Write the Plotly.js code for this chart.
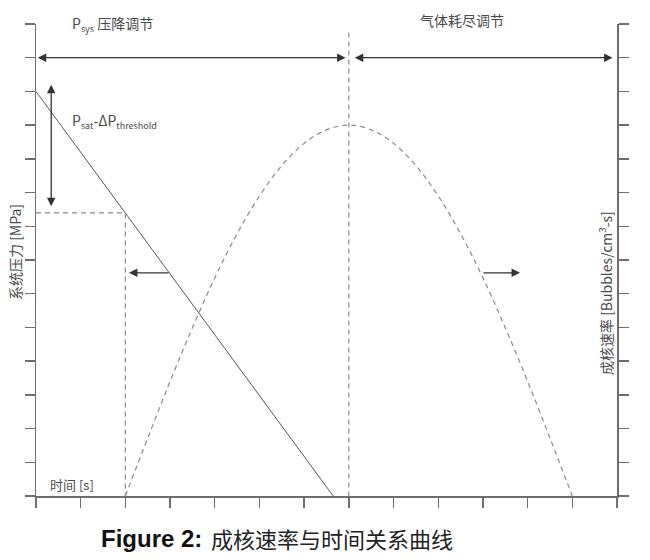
<!DOCTYPE html>
<html>
<head>
<meta charset="utf-8">
<script src="https://cdn.plot.ly/plotly-3.0.1.min.js"></script>
<style>html,body{margin:0;padding:0;background:#fff}#chart{width:650px;height:560px}</style>
</head>
<body>
<div id="chart"></div>
<script>
// Data
const pressTime = [0, 6.65];
const pressure  = [12, 0];

const rateTime = [2, 2.5, 3, 3.5, 4, 4.5, 5, 5.5, 6, 6.5, 7, 7.5, 8, 8.5, 9, 9.5, 10, 10.5, 11, 11.5, 12];
const rate     = [0, 1.72, 3.4, 4.99, 6.47, 7.78, 8.9, 9.8, 10.46, 10.86, 11, 10.86, 10.46, 9.8, 8.9, 7.78, 6.47, 4.99, 3.4, 1.72, 0];

const thresholdTime = [0, 2, 2];
const thresholdP    = [8.4, 8.4, 0];

const splitTime = [7, 7];
const splitY    = [13.75, 0];

const xTicks = [0,1,2,3,4,5,6,7,8,9,10,11,12,13];
const yTicks = [0,1,2,3,4,5,6,7,8,9,10,11,12,13,14];

const subStyle = s => '<sub><span style="font-size:9px">' + s + '</span></sub>';
const regionLabels = ['P' + subStyle('sys') + ' 压降调节', '气体耗尽调节'];
const thresholdLabel = 'P' + subStyle('sat') + '-ΔP' + subStyle('threshold');
const leftTitle = '系统压力 [MPa]';
const rightTitle = '成核速率 [Bubbles/cm<sup>3</sup>-s]';
const xTitle = '时间 [s]';
const captionBold = 'Figure 2:';
const captionText = '成核速率与时间关系曲线';

const W = 650, H = 560;
const L = 36, R = 33, T = 24, B = 64;
const pw = W - L - R, ph = H - T - B;
const px = v => (v - L) / pw;
const py = v => (H - B - v) / ph;

const axisCol = '#6e6e6e';
const dashGray = '#8a8a8a';
const txtCol = '#4a4a4a';
const arrowCol = '#333333';
const font = 'Noto Sans CJK SC, Open Sans, sans-serif';

const traces = [
  {x: pressTime, y: pressure, mode: 'lines', line: {color: '#555555', width: 1}, hoverinfo: 'skip'},
  {x: rateTime, y: rate, mode: 'lines', line: {color: dashGray, width: 1.2, dash: '5px,4px', shape: 'spline'}, hoverinfo: 'skip', yaxis: 'y'},
  {x: thresholdTime, y: thresholdP, mode: 'lines', line: {color: dashGray, width: 1.2, dash: '5px,4px'}, hoverinfo: 'skip'},
  {x: splitTime, y: splitY, mode: 'lines', line: {color: dashGray, width: 1.2, dash: '5px,4px'}, hoverinfo: 'skip'},
  {x: [0], y: [0], mode: 'markers', marker: {opacity: 0}, yaxis: 'y2', hoverinfo: 'skip'}
];

function arrow(x, y, ax, ay, both) {
  return {x: x, y: y, ax: ax, ay: ay, xref: 'x', yref: 'y', axref: 'x', ayref: 'y',
    text: '', showarrow: true, arrowhead: 2, startarrowhead: 2, arrowsize: 1.3, startarrowsize: 1.3,
    arrowwidth: 1.3, arrowcolor: arrowCol, arrowside: both ? 'end+start' : 'end', standoff: 0, startstandoff: 0};
}

const annotations = [
  arrow(0.04, 13, 6.96, 13, true),
  arrow(12.9, 13, 7.1, 13, true),
  arrow(0.34, 12.2, 0.34, 8.55, true),
  arrow(2.08, 6.62, 3.0, 6.62, false),
  arrow(10.83, 6.62, 9.98, 6.62, false),
  {xref: 'paper', yref: 'paper', x: px(70), y: py(24), xanchor: 'left', yanchor: 'middle', showarrow: false,
   text: regionLabels[0], font: {family: font, size: 14, color: txtCol}},
  {xref: 'paper', yref: 'paper', x: px(462), y: py(20), xanchor: 'center', yanchor: 'middle', showarrow: false,
   text: regionLabels[1], font: {family: font, size: 14, color: txtCol}},
  {xref: 'paper', yref: 'paper', x: px(70), y: py(121), xanchor: 'left', yanchor: 'middle', showarrow: false,
   text: thresholdLabel, font: {family: font, size: 14, color: txtCol}},
  {xref: 'paper', yref: 'paper', x: px(15), y: py(252), xanchor: 'center', yanchor: 'middle', showarrow: false,
   textangle: -90, text: leftTitle, font: {family: font, size: 14, color: txtCol}},
  {xref: 'paper', yref: 'paper', x: px(606), y: py(293), xanchor: 'center', yanchor: 'middle', showarrow: false,
   textangle: -90, text: rightTitle, font: {family: font, size: 14, color: txtCol}},
  {xref: 'paper', yref: 'paper', x: px(48), y: py(484), xanchor: 'left', yanchor: 'middle', showarrow: false,
   text: xTitle, font: {family: font, size: 13, color: txtCol}},
  {xref: 'paper', yref: 'paper', x: px(204), y: py(538), xanchor: 'right', yanchor: 'middle', showarrow: false,
   text: '<b>' + captionBold + '</b>', font: {family: 'Liberation Sans, Arial, sans-serif', size: 24, color: '#111'}},
  {xref: 'paper', yref: 'paper', x: px(209), y: py(538), xanchor: 'left', yanchor: 'middle', showarrow: false,
   text: captionText, font: {family: font, size: 22, color: '#222'}}
];

const axisCommon = {
  showgrid: false, zeroline: false, showline: true, linecolor: axisCol, linewidth: 1.5,
  ticks: 'outside', ticklen: 10, tickwidth: 1.3, tickcolor: axisCol, showticklabels: false,
  tickmode: 'array', fixedrange: true
};

const layout = {
  width: W, height: H,
  margin: {l: L, r: R, t: T, b: B, pad: 0},
  paper_bgcolor: '#fff', plot_bgcolor: '#fff',
  showlegend: false, hovermode: false,
  xaxis: Object.assign({}, axisCommon, {range: [0, 13], tickvals: xTicks}),
  yaxis: Object.assign({}, axisCommon, {range: [0, 14], tickvals: yTicks}),
  yaxis2: Object.assign({}, axisCommon, {range: [0, 14], tickvals: yTicks, overlaying: 'y', side: 'right'}),
  annotations: annotations
};

Plotly.newPlot('chart', traces, layout, {staticPlot: true, displayModeBar: false});
</script>
</body>
</html>
